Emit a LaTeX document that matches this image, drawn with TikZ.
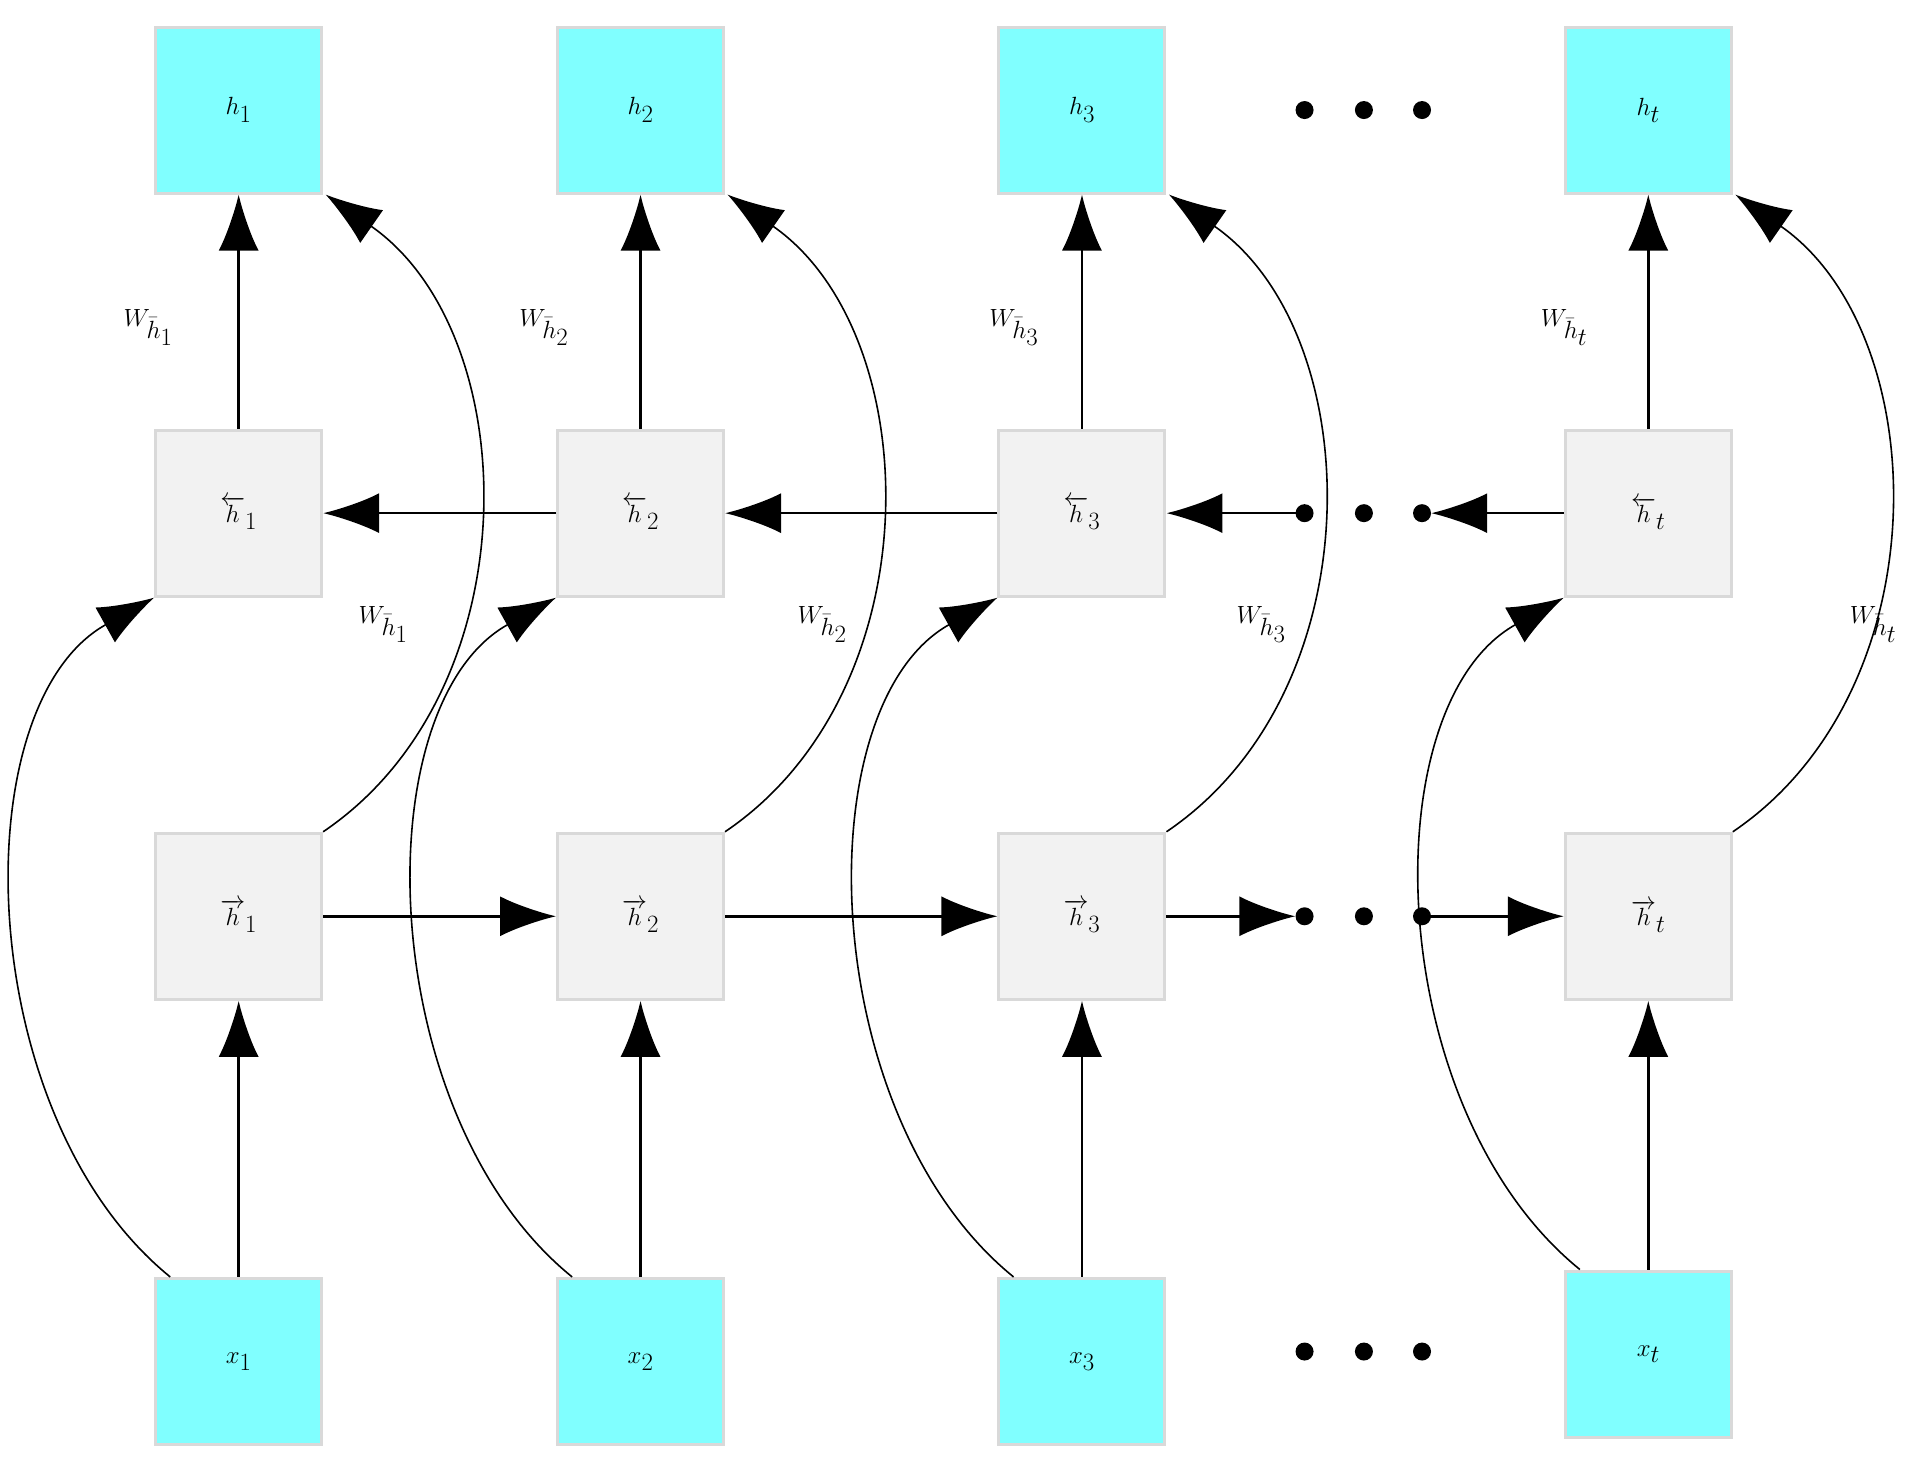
\documentclass[tikz,border=0pt]{standalone}
\usetikzlibrary{arrows.meta,calc}
\begin{document}
\begin{tikzpicture}[x=1.2365pt,y=-1.2365pt,
  box/.style={draw=black!15,line width=3pt,minimum size=166pt,inner sep=0pt,font=\fontsize{90}{100}\selectfont},
  io/.style={box,fill={rgb,255:red,128;green,255;blue,255}},
  hid/.style={box,fill=black!5},
  arr/.style={line width=2.6pt,-{Latex[length=56pt,width=40pt]}},
  carr/.style={line width=1.6pt,-{Latex[length=56pt,width=40pt]}},
  lab/.style={font=\fontsize{60}{66}\selectfont},
  dot/.style={circle,fill=black,inner sep=0pt,minimum size=18pt}]
\useasboundingbox (0,0) rectangle (1560,1178);
\foreach \n/\c/\yx in {1/193/1101,2/518/1101,3/875/1101,t/1333/1095}{
  \node[io] (x\n) at (\c,\yx) {$x_{\n}$};
  \node[hid] (f\n) at (\c,741) {$\overrightarrow{h}_{\n}$};
  \node[hid] (b\n) at (\c,415) {$\overleftarrow{h}_{\n}$};
  \node[io] (h\n) at (\c,89) {$h_{\n}$};
  \draw[arr] (x\n) -- (f\n);
  \draw[arr] (b\n) -- (h\n);
  \coordinate (s\n) at ($(x\n.north west)+(13,0)$);
  \coordinate (u\n) at ($(h\n.south east)+(2,0)$);
  \draw[carr] (s\n) .. controls ++(-160,-130) and ++(-156,87) .. (b\n.south west);
  \draw[carr] (f\n.north east) .. controls ++(170,-115) and ++(161,112) .. (u\n);
}
\foreach \n/\c in {1/120,2/440,3/820,t/1265}{
  \node[lab] at (\c,265) {$W_{\bar{h}_{\n}}$};}
\foreach \n/\c in {1/310,2/665,3/1020,t/1515}{
  \node[lab] at (\c,505) {$W_{\bar{h}_{\n}}$};}
% dots
\foreach \y/\r in {89/a,415/b,741/c,1093/d}{
  \node[dot] (d1\r) at (1055,\y) {};
  \node[dot] (d2\r) at (1103,\y) {};
  \node[dot] (d3\r) at (1150,\y) {};}
\draw[arr] (f1) -- (f2);
\draw[arr] (f2) -- (f3);
\draw[arr] (f3) -- (d1c.west);
\draw[arr] (d3c.center) -- (ft);
\draw[arr] (b2) -- (b1);
\draw[arr] (b3) -- (b2);
\draw[arr] (d1b.center) -- (b3);
\draw[arr] (bt) -- (d3b.east);
\end{tikzpicture}
\end{document}
